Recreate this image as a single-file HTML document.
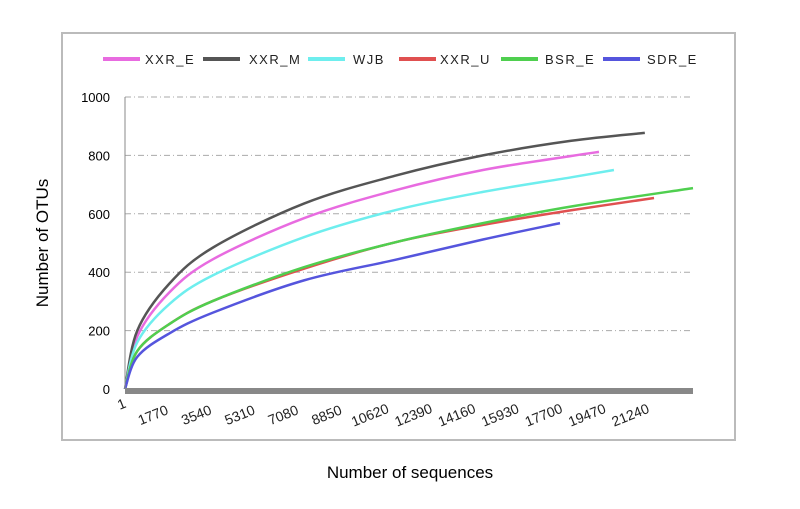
<!DOCTYPE html>
<html><head><meta charset="utf-8"><style>
body{margin:0;background:#fff;font-family:"Liberation Sans",sans-serif}
</style></head><body>
<svg id="c" width="800" height="504" viewBox="0 0 800 504">
<rect x="62" y="33" width="673" height="407" fill="#fff" stroke="#bbb" stroke-width="2"/>
<g id="grid"></g><g id="series"></g><g id="axes"></g><g id="legend"></g>
<text x="48" y="243" transform="rotate(-90 48 243)" font-size="17" text-anchor="middle">Number of OTUs</text>
<text x="410" y="478" font-size="17" text-anchor="middle">Number of sequences</text>
</svg>
<script>
const seriesNames=["XXR_E","XXR_M","WJB","XXR_U","BSR_E","SDR_E"];
const colors=["#e86be0","#555555","#6eeeee","#e05050","#4fcf4f","#5555dd"];
const sampleX=[[0,500,1800,3600,7300,11000,14600,18200,19330],[0,500,1800,3600,7300,11000,14600,18200,21200],[0,500,1800,3600,7300,11000,14600,18200,19940],[0,500,1800,3600,7300,11000,14600,18200,21575],[0,500,1800,3600,7300,11000,14600,18200,23165],[0,500,1800,3600,7300,11000,14600,17740]];
const sampleY=[[0,180,330,445,585,680,750,798,812],[0,200,360,485,635,730,800,850,877],[0,160,290,390,520,612,675,725,750],[0,130,222,302,412,502,562,612,654],[0,130,222,302,417,502,568,625,688],[0,110,190,262,372,442,512,568]];
const xTicks=[1,1770,3540,5310,7080,8850,10620,12390,14160,15930,17700,19470,21240];
const yTicks=[0,200,400,600,800,1000];
const NS="http://www.w3.org/2000/svg";
const X=v=>125+v*0.02452, Y=v=>389-v*0.292;
function mk(t,a,p,txt){const e=document.createElementNS(NS,t);for(const k in a)e.setAttribute(k,a[k]);if(txt!=null)e.textContent=txt;p.appendChild(e);return e;}
const g=document.getElementById('grid'),ax=document.getElementById('axes'),s=document.getElementById('series'),lg=document.getElementById('legend');
yTicks.forEach(t=>{
 if(t>0){const l=mk('line',{x1:125,x2:690,y1:Y(t),y2:Y(t),stroke:'#aaa','stroke-dasharray':'6 3 1 3'},g);
 
 }
 const tx=mk('text',{x:110,y:Y(t)+5,'font-size':13,'text-anchor':'end'},ax,t);
 
 
});
const ya=mk('line',{x1:125,x2:125,y1:Y(1000),y2:389,stroke:'#888'},ax);


const xa=mk('line',{x1:125,x2:693,y1:391,y2:391,stroke:'#888','stroke-width':6},ax);


xTicks.forEach((t,i)=>{
 const x=i==0?122:X(t)-15, y=i==0?405:416;
 const tx=mk('text',{x:x,y:y,'font-size':14,fill:'#222','text-anchor':'middle','dominant-baseline':'middle',transform:`rotate(-22 ${x} ${y})`},ax,t);
 
 
});
function path(xs,ys){const p=xs.map((v,i)=>[X(v),Y(ys[i])]);let d=`M${p[0][0]},${p[0][1]}`;
 for(let i=0;i<p.length-1;i++){const p0=p[i-1]||p[i],p1=p[i],p2=p[i+1],p3=p[i+2]||p2;
 d+=` C${p1[0]+(p2[0]-p0[0])/6},${p1[1]+(p2[1]-p0[1])/6} ${p2[0]-(p3[0]-p1[0])/6},${p2[1]-(p3[1]-p1[1])/6} ${p2[0]},${p2[1]}`;}return d;}
const lineX=[103,203,308,399,501,603], textX=[145,249,353,440,545,647];
seriesNames.forEach((n,i)=>{
 const pe=mk('path',{d:path(sampleX[i],sampleY[i]),fill:'none',stroke:colors[i],'stroke-width':2.5},s);
 
 
 const ge=mk('g',{},lg);
 
 
 mk('line',{x1:lineX[i],x2:lineX[i]+37,y1:59,y2:59,stroke:colors[i],'stroke-width':4},ge);
 mk('text',{x:textX[i],y:64,'font-size':13,'letter-spacing':1.5,fill:'#222'},ge,n);
});
</script>
</body></html>
